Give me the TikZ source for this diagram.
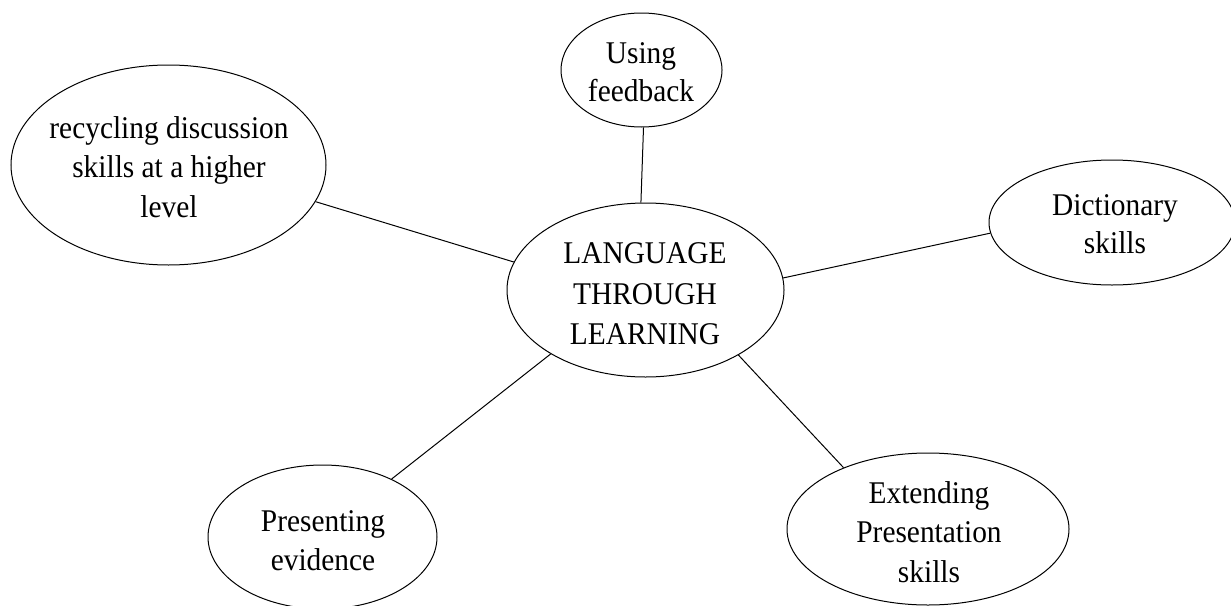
\documentclass[tikz,border=0pt]{standalone}
\usepackage{graphicx}
\usepackage{fontspec}
\setmainfont{Liberation Serif}
\usetikzlibrary{shapes.geometric}
% centred lines of bubble text, slightly narrowed; #1 = line spacing
\newcommand\bubbletext[2]{\fontsize{15.8}{#1}\selectfont
  \scalebox{0.93}[1]{\begin{tabular}{@{}c@{}}#2\end{tabular}}}
\begin{document}
\begin{tikzpicture}[x=0.5pt,y=-0.5pt,
  bubble/.style={draw, ellipse, line width=0.5pt, inner sep=0pt},
  words/.style={inner sep=0pt},
  link/.style={draw, line width=0.5pt}]
\useasboundingbox (0,0) rectangle (1231,605);

% ellipses
\node[bubble, minimum width=138.5pt, minimum height=87pt] (lang) at (645.5,290) {};
\node[bubble, minimum width=80.5pt,  minimum height=57pt] (fb)   at (641.5,70) {};
\node[bubble, minimum width=157.5pt, minimum height=100pt] (rec) at (168.5,165) {};
\node[bubble, minimum width=123pt,   minimum height=62.5pt] (dict) at (1112,222.5) {};
\node[bubble, minimum width=114.5pt, minimum height=72pt] (pres) at (322.5,537) {};
\node[bubble, minimum width=141pt,   minimum height=76pt] (ext)  at (928,529) {};

% texts
\node[words] (langT) at (645,296.3) {\bubbletext{20.25pt}{LANGUAGE\\THROUGH\\LEARNING}};
\node[words] (fbT)   at (641,74.4)  {\bubbletext{19pt}{Using\\feedback}};
\node[words] (recT)  at (169,169.6) {\bubbletext{19.75pt}{recycling discussion\\skills at a higher\\level}};
\node[words] (dictT) at (1115,226.4) {\bubbletext{19pt}{Dictionary\\skills}};
\node[words] (presT) at (323,542.7) {\bubbletext{19.5pt}{Presenting\\evidence}};
\node[words] (extT)  at (929,534.6) {\bubbletext{19.75pt}{Extending\\Presentation\\skills}};

% connectors
\path[link] (fb.-88.5) -- (lang.93);
\path[link] (rec.-14.2) -- (lang.168.6);
\path[link] (dict.-175.1) -- (lang.5.4);
\path[link] (pres.40.8) -- (lang.214.8);
\path[link] (ext.144) -- (lang.-35.3);
\end{tikzpicture}
\end{document}
